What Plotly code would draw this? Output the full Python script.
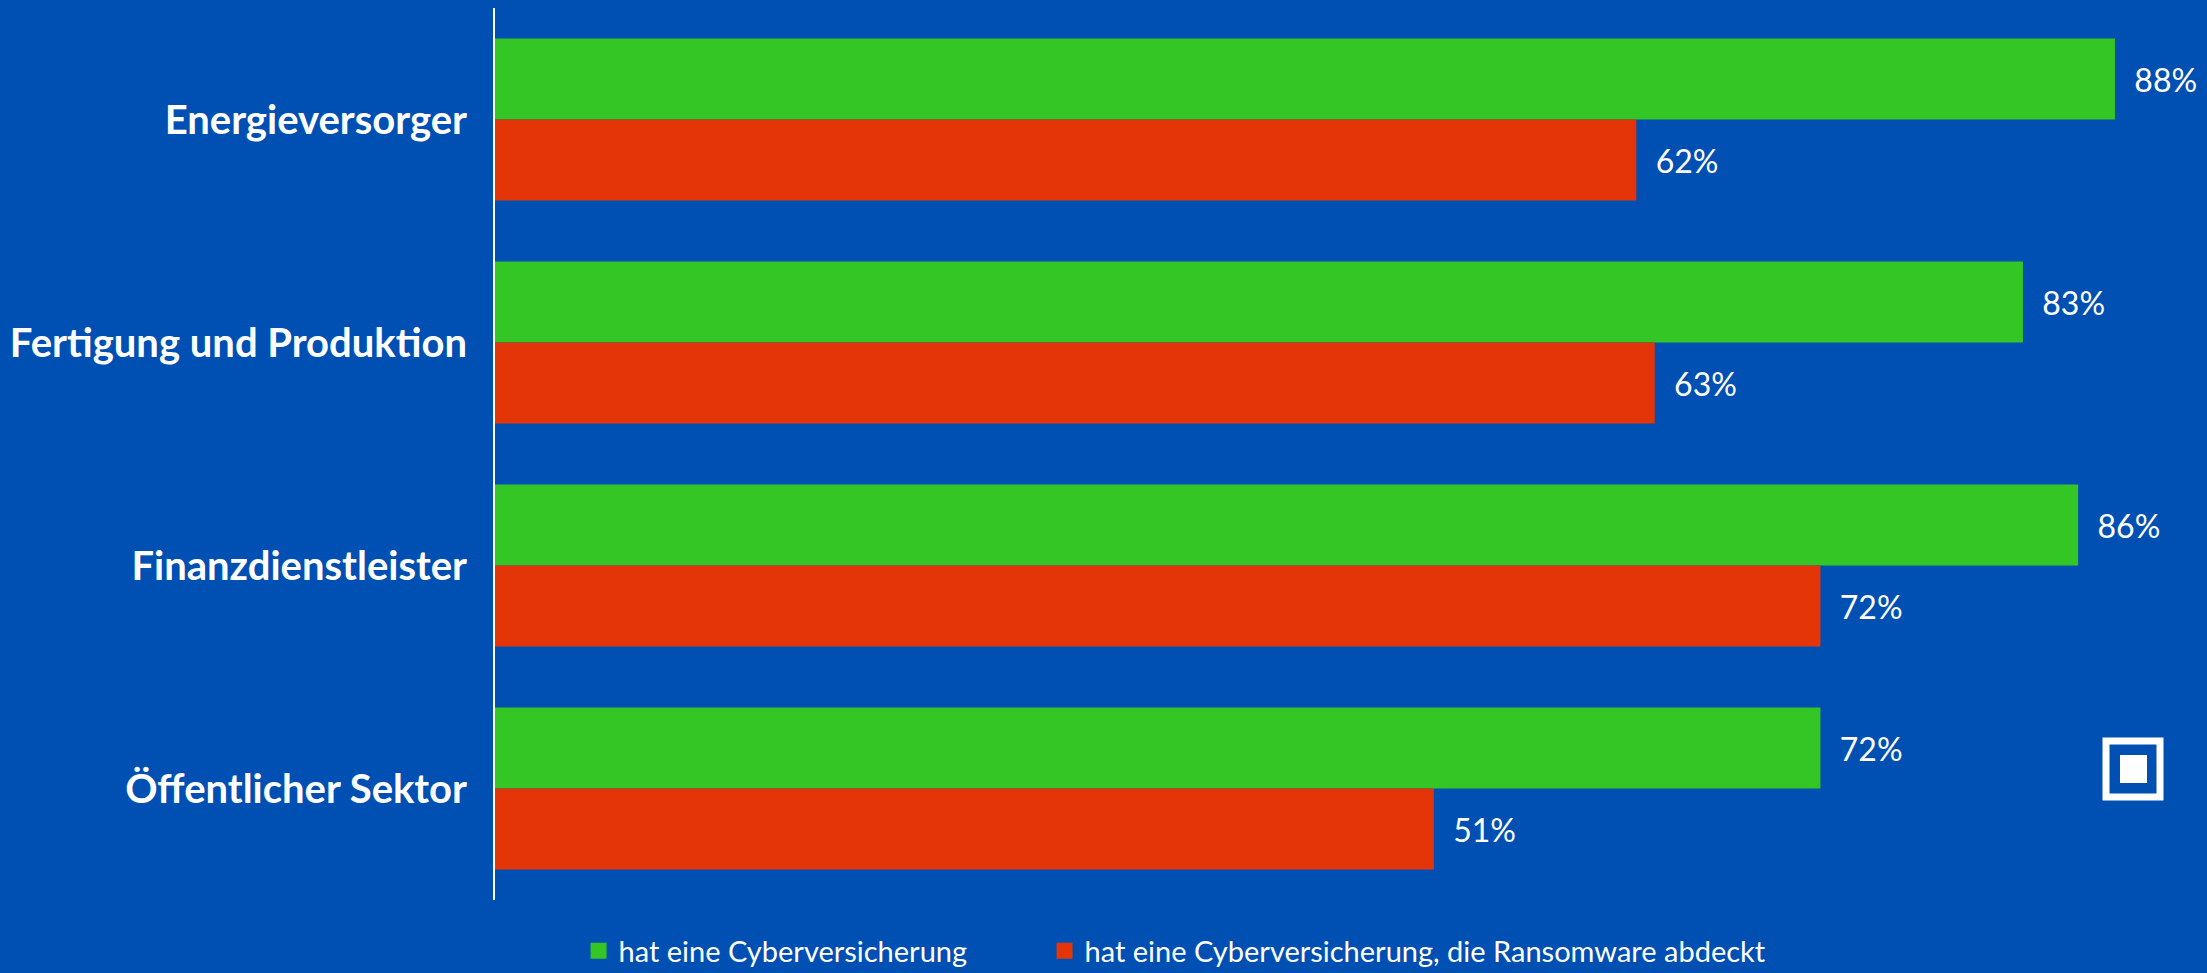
import plotly.graph_objects as go

categories = ["Energieversorger", "Fertigung und Produktion", "Finanzdienstleister", "Öffentlicher Sektor"]
cyber = [88, 83, 86, 72]
ransom = [62, 63, 72, 51]
series_names = ["hat eine Cyberversicherung", "hat eine Cyberversicherung, die Ransomware abdeckt"]

BG = "#0050B4"
GREEN = "#33C624"
RED = "#E43508"
FONT = "Lato"

fig = go.Figure()
fig.add_trace(go.Bar(
    y=categories, x=cyber, orientation="h", name=series_names[0],
    marker=dict(color=GREEN, line=dict(width=0)),
    texttemplate="  %{x}%", textposition="outside", cliponaxis=False,
    textfont=dict(family=FONT, size=32, color="white"), showlegend=False,
))
fig.add_trace(go.Bar(
    y=categories, x=ransom, orientation="h", name=series_names[1],
    marker=dict(color=RED, line=dict(width=0)),
    texttemplate="  %{x}%", textposition="outside", cliponaxis=False,
    textfont=dict(family=FONT, size=32, color="white"), showlegend=False,
))
# legend entries (one legend per entry for exact placement)
for nm, col, lg in zip(series_names, [GREEN, RED], ["legend", "legend2"]):
    fig.add_trace(go.Scatter(
        x=[None], y=[None], mode="markers", name=nm, legend=lg,
        marker=dict(symbol="square", size=16, color=col, line=dict(width=0)),
        showlegend=True,
    ))

leg_common = dict(
    orientation="h", yanchor="middle", y=-0.057,
    font=dict(family=FONT, size=29, color="white"),
    bgcolor="rgba(0,0,0,0)", itemwidth=30,
)

fig.update_layout(
    width=2207, height=973,
    paper_bgcolor=BG, plot_bgcolor=BG,
    margin=dict(l=495, r=0, t=8, b=73, autoexpand=False),
    barmode="group", bargap=0.2735, bargroupgap=0,
    font=dict(family=FONT, color="white"),
    xaxis=dict(range=[0, 93], visible=False, showgrid=False, zeroline=False),
    yaxis=dict(
        type="category", categoryorder="array", categoryarray=categories,
        range=[3.5, -0.5], showgrid=False, zeroline=False,
        showline=True, linecolor="white", linewidth=2,
        ticks="", ticklabelstandoff=18,
        tickfont=dict(family=FONT, size=40, color="white", weight="bold"),
    ),
    legend=dict(x=0.0488, xanchor="left", **leg_common),
    legend2=dict(x=0.321, xanchor="left", **leg_common),
    showlegend=True,
    shapes=[
        dict(type="rect", xref="paper", yref="paper",
             x0=(2106 - 495) / 1712, x1=(2160 - 495) / 1712,
             y0=(900 - 797) / 892, y1=(900 - 741) / 892,
             line=dict(color="white", width=7), fillcolor="rgba(0,0,0,0)"),
        dict(type="rect", xref="paper", yref="paper",
             x0=(2120 - 495) / 1712, x1=(2147 - 495) / 1712,
             y0=(900 - 783) / 892, y1=(900 - 755) / 892,
             line=dict(width=0), fillcolor="white"),
    ],
)

fig.write_html("out.html")
